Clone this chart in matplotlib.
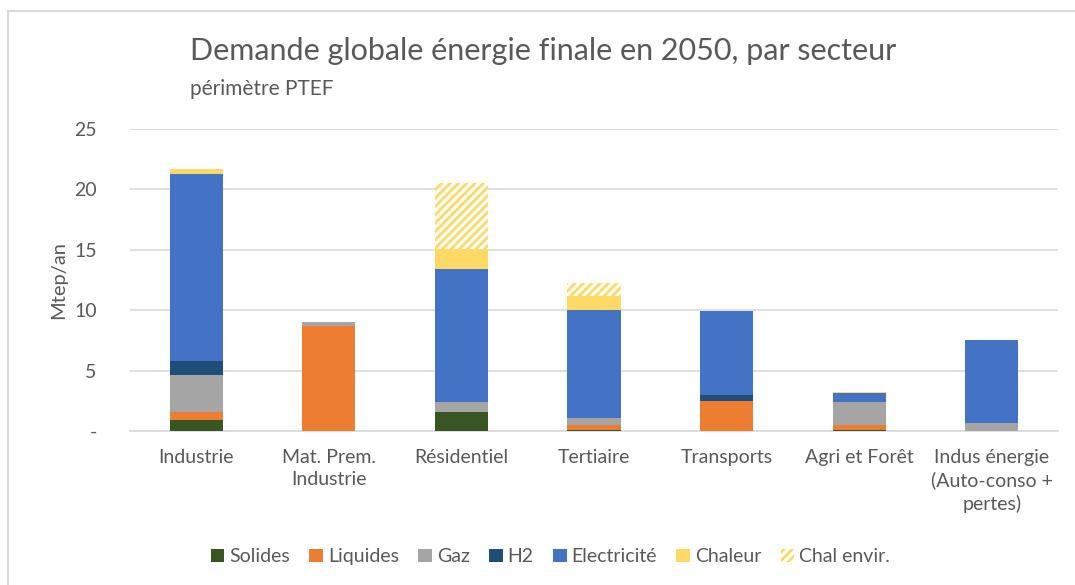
import numpy as np
import matplotlib
matplotlib.use('Agg')
import matplotlib.pyplot as plt
from matplotlib.lines import Line2D

# ------------------------------
# Data (Mtep/an)
# ------------------------------
sectors = ['Industrie', 'Mat. Prem.\nIndustrie', 'Résidentiel', 'Tertiaire',
           'Transports', 'Agri et Forêt', 'Indus énergie\n(Auto-conso +\npertes)']

solides     = [0.89, 0.00, 1.60, 0.10, 0.00, 0.10, 0.00]
liquides    = [0.71, 8.71, 0.00, 0.40, 2.49, 0.40, 0.00]
gaz         = [3.02, 0.28, 0.78, 0.58, 0.00, 1.90, 0.68]
h2          = [1.16, 0.00, 0.00, 0.00, 0.46, 0.00, 0.00]
electricite = [15.49, 0.00, 11.04, 8.94, 7.01, 0.75, 6.82]
chaleur     = [0.36, 0.00, 1.60, 1.18, 0.00, 0.10, 0.00]
chal_envir  = [0.00, 0.00, 5.48, 1.00, 0.00, 0.00, 0.00]

series_names = ['Solides', 'Liquides', 'Gaz', 'H2', 'Electricité', 'Chaleur', 'Chal envir.']
y_ticks = [0, 5, 10, 15, 20, 25]
y_ticklabels = ['-', '5', '10', '15', '20', '25']

colors = ['#375623', '#ED7D31', '#A5A5A5', '#1F4E79', '#4472C4', '#FFD966', '#FFD966']
TXT = '#595959'
GRID = '#D9D9D9'

plt.rcParams['font.family'] = ['Lato', 'DejaVu Sans']
plt.rcParams['hatch.linewidth'] = 2.0
plt.rcParams['hatch.color'] = '#FFD966'

fig = plt.figure(figsize=(10.75, 5.85), dpi=100)
ax = fig.add_axes([0.1209, 0.2632, 0.8633, 0.5171])

x = np.arange(len(sectors))
width = 0.4
bottom = np.zeros(len(sectors))
all_series = [solides, liquides, gaz, h2, electricite, chaleur, chal_envir]
for i, vals in enumerate(all_series):
    vals = np.array(vals)
    if series_names[i] == 'Chal envir.':
        ax.bar(x, vals, width, bottom=bottom, color='white', edgecolor='#FFD966',
               hatch='////', linewidth=0, zorder=3)
    else:
        ax.bar(x, vals, width, bottom=bottom, color=colors[i], linewidth=0, zorder=3)
    bottom += vals

# ------------------------------
# Axis styling
# ------------------------------
ax.set_xlim(-0.5, len(sectors) - 0.5)
ax.set_ylim(0, 25)
ax.set_yticks(y_ticks)
ax.set_yticklabels(y_ticklabels)
ax.set_xticks(x)
ax.set_xticklabels(sectors, linespacing=1.35)
ax.tick_params(axis='both', length=0, labelsize=14, labelcolor=TXT)
ax.tick_params(axis='x', pad=13)
ax.tick_params(axis='y', pad=24)
ax.grid(axis='y', color=GRID, linewidth=1.2, zorder=0)
ax.set_axisbelow(True)
for s in ['top', 'right', 'left']:
    ax.spines[s].set_visible(False)
ax.spines['bottom'].set_color(GRID)
ax.spines['bottom'].set_linewidth(1.2)

ax.set_ylabel('Mtep/an', fontsize=14.5, color=TXT, labelpad=5)

# Titles
fig.text(0.1767, 0.898, 'Demande globale énergie finale en 2050, par secteur',
         fontsize=22, color=TXT, ha='left', va='baseline')
fig.text(0.1767, 0.838, 'périmètre PTEF', fontsize=15, color=TXT, ha='left', va='baseline')

# Legend
handles = []
for i, name in enumerate(series_names):
    if name == 'Chal envir.':
        h = plt.Rectangle((0, 0), 1, 1, facecolor='white', edgecolor='#FFD966',
                          hatch='////', linewidth=0)
    else:
        h = plt.Rectangle((0, 0), 1, 1, facecolor=colors[i], linewidth=0)
    handles.append(h)
fig.legend(handles, series_names, loc='center', bbox_to_anchor=(0.512, 0.048), ncol=7,
           frameon=False, fontsize=14, labelcolor=TXT, handlelength=0.7, handleheight=0.7,
           handletextpad=0.25, columnspacing=1.0)

# Chart border (top and left edges visible)
fig.add_artist(Line2D([0.0079, 0.0079], [0.0, 0.981], color=GRID, linewidth=1.5))
fig.add_artist(Line2D([0.0079, 1.0], [0.981, 0.981], color=GRID, linewidth=1.5))

plt.savefig('out.png', dpi=100)
